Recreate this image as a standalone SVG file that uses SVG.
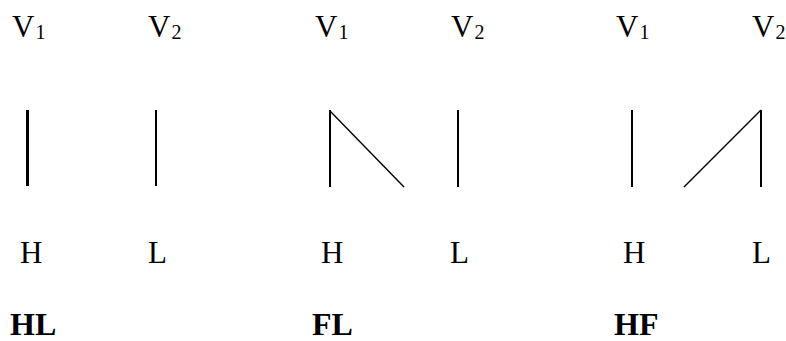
<svg xmlns="http://www.w3.org/2000/svg" width="786" height="341" viewBox="0 0 786 341">
<style>
text{font-family:"Liberation Serif","DejaVu Serif",serif;fill:#000}
.v{font-size:31px}
.s{font-size:20px}
.b{font-size:32px;font-weight:bold}
line{stroke:#000;stroke-linecap:butt}
.t{stroke-width:2}
.d{stroke-width:1.4}
</style>
<rect width="786" height="341" fill="#fff"/>
<g id="HL">
<text class="v" x="12" y="37">V<tspan class="s" dx="1" dy="2">1</tspan></text>
<text class="v" x="148" y="37">V<tspan class="s" dx="1" dy="2">2</tspan></text>
<line x1="27.5" y1="110" x2="27.5" y2="186" stroke-width="3"/>
<line class="t" x1="156" y1="110" x2="156" y2="186"/>
<text class="v" x="20" y="263">H</text>
<text class="v" x="148" y="263">L</text>
<text class="b" x="10" y="335">HL</text>
</g>
<g id="FL">
<text class="v" x="315" y="37">V<tspan class="s" dx="1" dy="2">1</tspan></text>
<text class="v" x="451" y="37">V<tspan class="s" dx="1" dy="2">2</tspan></text>
<line class="t" x1="330" y1="110" x2="330" y2="187"/>
<line class="d" x1="330" y1="111" x2="404" y2="187"/>
<line class="t" x1="458" y1="110" x2="458" y2="187"/>
<text class="v" x="321" y="263">H</text>
<text class="v" x="450" y="263">L</text>
<text class="b" x="312" y="335">FL</text>
</g>
<g id="HF">
<text class="v" x="616" y="37">V<tspan class="s" dx="1" dy="2">1</tspan></text>
<text class="v" x="752" y="37">V<tspan class="s" dx="1" dy="2">2</tspan></text>
<line class="t" x1="632" y1="110" x2="632" y2="187"/>
<line class="d" x1="684" y1="187" x2="761" y2="110"/>
<line class="t" x1="761" y1="110" x2="761" y2="187"/>
<text class="v" x="623" y="263">H</text>
<text class="v" x="752" y="263">L</text>
<text class="b" x="614" y="335">HF</text>
</g>
<g id="connectors"></g>
</svg>
